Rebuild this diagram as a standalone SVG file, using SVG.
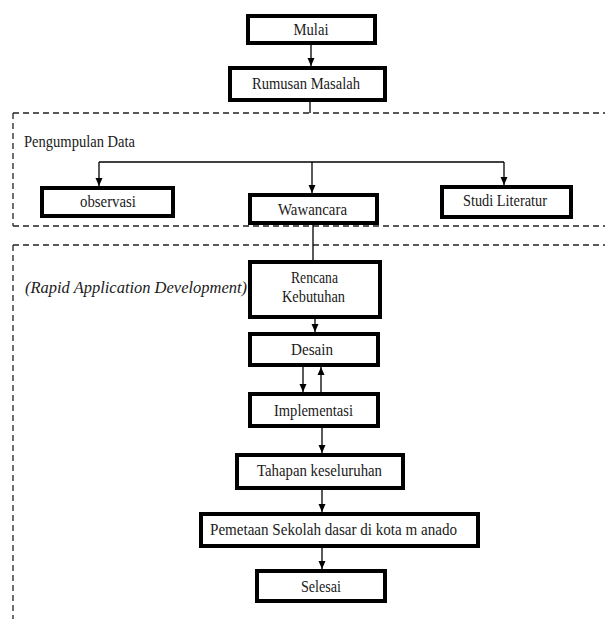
<svg xmlns="http://www.w3.org/2000/svg" width="605" height="619" viewBox="0 0 605 619" font-family="Liberation Serif, serif">
  <defs>
    <style>
      text { font-family: "Liberation Serif", serif; }
      .box { fill: #ffffff; stroke: #000000; stroke-width: 4; }
      .lbl { font-size: 16px; fill: #1a1a1a; text-anchor: middle; dominant-baseline: central; }
      .cap { font-size: 16px; fill: #1a1a1a; }
      .rad { font-size: 16px; font-style: italic; fill: #1a1a1a; }
      .conn { stroke: #000000; stroke-width: 1.3; fill: none; }
      .dash { stroke: #222222; stroke-width: 1.3; fill: none; stroke-dasharray: 6 4; }
    </style>
    <marker id="arr" viewBox="0 0 8 8" refX="8" refY="4" markerWidth="8" markerHeight="8" markerUnits="userSpaceOnUse" orient="auto">
      <path d="M0,0.5 L8,4 L0,7.5 Z" fill="#000000"/>
    </marker>
  </defs>
  <rect width="605" height="619" fill="#ffffff"/>

  <g id="regions">
    <path class="dash" d="M13,113 H605 M13,113 V226 M13,226 H605"/>
    <path class="dash" d="M13,245 H605 M13,245 V619"/>
    <text class="cap" x="24" y="147" textLength="111" lengthAdjust="spacingAndGlyphs">Pengumpulan Data</text>
    <text class="rad" x="25" y="293" textLength="222" lengthAdjust="spacingAndGlyphs">(Rapid Application Development)</text>
  </g>

  <g id="connectors">
    <line class="conn" x1="311" y1="45" x2="311" y2="66" marker-end="url(#arr)"/>
    <line class="conn" x1="310" y1="102" x2="310" y2="113"/>
    <path class="conn" d="M99,162 H504"/>
    <line class="conn" x1="99" y1="162" x2="99" y2="186" marker-end="url(#arr)"/>
    <line class="conn" x1="312" y1="162" x2="312" y2="193" marker-end="url(#arr)"/>
    <line class="conn" x1="504" y1="162" x2="504" y2="185" marker-end="url(#arr)"/>
    <line class="conn" x1="313" y1="225" x2="313" y2="260"/>
    <line class="conn" x1="315" y1="319" x2="315" y2="332" marker-end="url(#arr)"/>
    <line class="conn" x1="303" y1="367" x2="303" y2="392" marker-end="url(#arr)"/>
    <line class="conn" x1="321" y1="392" x2="321" y2="367" marker-end="url(#arr)"/>
    <line class="conn" x1="322" y1="428" x2="322" y2="453" marker-end="url(#arr)"/>
    <line class="conn" x1="322" y1="490" x2="322" y2="512" marker-end="url(#arr)"/>
    <line class="conn" x1="322" y1="548" x2="322" y2="569" marker-end="url(#arr)"/>
  </g>

  <g id="mulai">
    <rect class="box" x="248" y="16" width="127" height="27"/>
    <text class="lbl" x="311" y="29.5" textLength="35" lengthAdjust="spacingAndGlyphs">Mulai</text>
  </g>
  <g id="rumusan-masalah">
    <rect class="box" x="230" y="68" width="155" height="32"/>
    <text class="lbl" x="306" y="83" textLength="108" lengthAdjust="spacingAndGlyphs">Rumusan Masalah</text>
  </g>
  <g id="observasi">
    <rect class="box" x="42" y="188" width="131" height="28"/>
    <text class="lbl" x="108" y="201" textLength="56" lengthAdjust="spacingAndGlyphs">observasi</text>
  </g>
  <g id="wawancara">
    <rect class="box" x="250" y="195" width="127" height="28"/>
    <text class="lbl" x="312.5" y="209" textLength="69" lengthAdjust="spacingAndGlyphs">Wawancara</text>
  </g>
  <g id="studi-literatur">
    <rect class="box" x="442" y="187" width="129" height="30"/>
    <text class="lbl" x="505" y="200" textLength="84" lengthAdjust="spacingAndGlyphs">Studi Literatur</text>
  </g>
  <g id="rencana-kebutuhan">
    <rect class="box" x="250" y="262" width="130" height="55"/>
    <text class="lbl" x="314.5" y="277" textLength="47" lengthAdjust="spacingAndGlyphs">Rencana</text>
    <text class="lbl" x="313.5" y="296" textLength="63" lengthAdjust="spacingAndGlyphs">Kebutuhan</text>
  </g>
  <g id="desain">
    <rect class="box" x="250" y="334" width="128" height="31"/>
    <text class="lbl" x="312" y="349" textLength="42" lengthAdjust="spacingAndGlyphs">Desain</text>
  </g>
  <g id="implementasi">
    <rect class="box" x="250" y="394" width="128" height="32"/>
    <text class="lbl" x="313.5" y="410" textLength="79" lengthAdjust="spacingAndGlyphs">Implementasi</text>
  </g>
  <g id="tahapan-keseluruhan">
    <rect class="box" x="237" y="455" width="166" height="33"/>
    <text class="lbl" x="319.5" y="470" textLength="125" lengthAdjust="spacingAndGlyphs">Tahapan keseluruhan</text>
  </g>
  <g id="pemetaan">
    <rect class="box" x="201" y="514" width="277" height="32"/>
    <text class="lbl" x="333.5" y="529" textLength="247" lengthAdjust="spacingAndGlyphs">Pemetaan Sekolah dasar di kota m anado</text>
  </g>
  <g id="selesai">
    <rect class="box" x="257" y="571" width="128" height="30"/>
    <text class="lbl" x="321" y="586" textLength="40" lengthAdjust="spacingAndGlyphs">Selesai</text>
  </g>
</svg>
